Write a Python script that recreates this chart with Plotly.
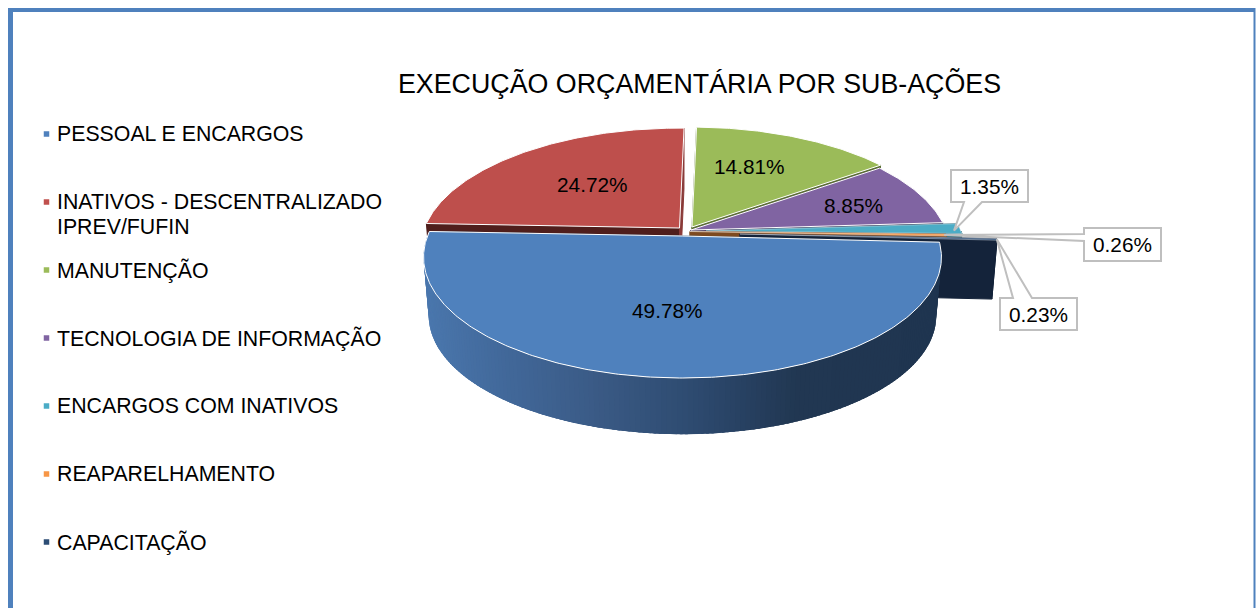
import math
import plotly.graph_objects as go

# ---- data ----
CATEGORIES = ["PESSOAL E ENCARGOS", "INATIVOS - DESCENTRALIZADO<br>IPREV/FUFIN", "MANUTENÇÃO",
              "TECNOLOGIA DE INFORMAÇÃO", "ENCARGOS COM INATIVOS", "REAPARELHAMENTO", "CAPACITAÇÃO"]
SHARES = [49.78, 24.72, 14.81, 8.85, 1.35, 0.26, 0.23]
TITLE = "EXECUÇÃO ORÇAMENTÁRIA POR SUB-AÇÕES"

# ---- styles ----
TOP_COLORS = ["#4F81BD", "#BE4F4C", "#9BBB59", "#8064A2", "#4BACC6", "#F79646", "#2C4D75"]
CUT_COLORS = ["#24405F", "#4F1E1C", "#5A6E33", "#4A3A60", "#2A6B7D", "#7D4A20", "#14233A"]
CUT_END_COLORS = ["#24405F", "#8A3A38", "#5A6E33", "#4A3A60", "#2A6B7D", "#7D4A20", "#14233A"]
LEGEND_COLORS = ["#4F81BD", "#C0504D", "#9BBB59", "#8064A2", "#4BACC6", "#F79646", "#2C4D75"]
FONT = "Liberation Sans, Arial, sans-serif"

# ---- 3-D pie projection (canvas pixels) ----
R, TILT, PERSP, DEPTH, BOTTOM_SCALE = 255.0, 0.46, 0.174, 59.0, 0.98
START_DEG = 3.0
CENTRES = [(682.5, 236), (679.5, 228), (692, 227), (691, 230), (706, 231), (690, 231.5), (740, 234)]
LABEL_POS = {0: (667, 310), 1: (592, 184), 2: (749, 166), 3: (853, 205)}
CALLOUTS = {
    4: ((951, 170, 1028, 202), ((964, 202), (982, 202))),
    5: ((1084, 228, 1161, 261), ((1084, 234), (1084, 241))),
    6: ((1000, 298, 1077, 330), ((1013, 298), (1032, 298))),
}
TIP_SHIFT = {4: (-6, 2), 5: (-2, 0), 6: (0, 0)}
WALL_STOPS = [(425, (74, 119, 173)), (500, (66, 105, 155)), (600, (58, 90, 133)),
              (700, (45, 74, 111)), (800, (33, 55, 82)), (940, (31, 53, 80))]


def project(cx, cy, deg, bottom=False, frac=1.0):
    a = math.radians(deg)
    X, Y = frac * math.cos(a), frac * math.sin(a)
    s = 1 / (1 - PERSP * Y)
    b = BOTTOM_SCALE if bottom else 1.0
    return cx + R * X * s * b, cy + (DEPTH if bottom else 0) + R * TILT * Y * s * b


def arc(cx, cy, a0, a1, bottom=False):
    n = max(2, int(abs(a1 - a0) * 1.5))
    return [project(cx, cy, a0 + (a1 - a0) * i / n, bottom) for i in range(n + 1)]


def wall_color(x):
    for (x0, c0), (x1, c1) in zip(WALL_STOPS, WALL_STOPS[1:]):
        if x <= x1:
            t = max(0.0, (x - x0) / (x1 - x0))
            return "rgb(%d,%d,%d)" % tuple(round(p + (q - p) * t) for p, q in zip(c0, c1))
    return "rgb(%d,%d,%d)" % WALL_STOPS[-1][1]


fig = go.Figure()


def poly(points, fill, line=None, width=1.0):
    xs = [p[0] for p in points] + [points[0][0]]
    ys = [p[1] for p in points] + [points[0][1]]
    fig.add_trace(go.Scatter(x=xs, y=ys, mode="lines", fill="toself", fillcolor=fill,
                             line=dict(color=line or fill, width=width),
                             hoverinfo="skip", showlegend=False))


angles, cur = [], START_DEG
for v in SHARES:
    angles.append((cur, cur + v * 3.6))
    cur += v * 3.6

for i in [1, 2, 3, 4, 5, 6, 0]:
    cx, cy = CENTRES[i]
    a0, a1 = angles[i]
    apex_t, apex_b = (cx, cy), (cx, cy + DEPTH)
    for edge, col in ((a0, CUT_COLORS[i]), (a1, CUT_END_COLORS[i])):
        poly([apex_t, project(cx, cy, edge), project(cx, cy, edge, True), apex_b], col)
    if i == 0:
        step = 1.0
        d = a0
        while d < a1:
            e = min(a1, d + step + 1.5)
            tp = arc(cx, cy, d, e)
            bt = arc(cx, cy, d, e, True)
            poly(tp + bt[::-1], wall_color(tp[0][0]), width=0)
            d += step
    elif a1 > 360:
        lo = max(a0, 360)
        poly(arc(cx, cy, lo, a1) + arc(cx, cy, lo, a1, True)[::-1], CUT_COLORS[i])
    poly([apex_t] + arc(cx, cy, a0, a1), TOP_COLORS[i], line="#FFFFFF", width=1.0 if i < 4 else 0.4)

LEG_Y = [134, 202, 270, 338, 406, 474, 542]
fig.add_trace(go.Scatter(x=[46.5] * len(LEG_Y), y=LEG_Y, mode="markers",
                         marker=dict(symbol="square", size=5.5, color=LEGEND_COLORS, line=dict(width=0)),
                         hoverinfo="skip", showlegend=False))

annotations = []
LINE_GAP = 25
for name, y in zip(CATEGORIES, LEG_Y):
    for k, part in enumerate(name.split("<br>")):
        annotations.append(dict(x=54.5, y=y + k * LINE_GAP, text=part, xref="x", yref="y",
                                xanchor="left", yanchor="middle", align="left", showarrow=False,
                                font=dict(family=FONT, size=21.3, color="#000000")))
annotations.append(dict(x=699.5, y=83, text=TITLE, xref="x", yref="y", showarrow=False,
                        xanchor="center", yanchor="middle", font=dict(family=FONT, size=26.8, color="#000000")))
for i, (x, y) in LABEL_POS.items():
    annotations.append(dict(x=x, y=y, text=f"{SHARES[i]:.2f}%", xref="x", yref="y", showarrow=False,
                            font=dict(family=FONT, size=20.8, color="#000000")))

shapes = [
    dict(type="line", xref="x", yref="y", x0=10.5, y0=608, x1=10.5, y1=8, line=dict(color="#4F81BD", width=5)),
    dict(type="line", xref="x", yref="y", x0=8, y0=10, x1=1255, y1=10, line=dict(color="#4F81BD", width=4)),
    dict(type="line", xref="x", yref="y", x0=1254.5, y0=8, x1=1254.5, y1=608, line=dict(color="#4F81BD", width=2)),
]
for i, ((x0, y0, x1, y1), (b0, b1)) in CALLOUTS.items():
    a0, a1 = angles[i]
    tx, ty = project(CENTRES[i][0], CENTRES[i][1], (a0 + a1) / 2)
    tx += TIP_SHIFT[i][0]
    ty += TIP_SHIFT[i][1]
    if i == 4:
        path = f"M{x0},{y0} L{x1},{y0} L{x1},{y1} L{b1[0]},{b1[1]} L{tx:.1f},{ty:.1f} L{b0[0]},{b0[1]} L{x0},{y1} Z"
    elif i == 5:
        path = f"M{x0},{y0} L{x1},{y0} L{x1},{y1} L{x0},{y1} L{b1[0]},{b1[1]} L{tx:.1f},{ty:.1f} L{b0[0]},{b0[1]} Z"
    else:
        path = f"M{x0},{y0} L{b0[0]},{b0[1]} L{tx:.1f},{ty:.1f} L{b1[0]},{b1[1]} L{x1},{y0} L{x1},{y1} L{x0},{y1} Z"
    shapes.append(dict(type="path", xref="x", yref="y", path=path, fillcolor="#FFFFFF",
                       line=dict(color="#BFBFBF", width=2), layer="above"))
    annotations.append(dict(x=(x0 + x1) / 2, y=(y0 + y1) / 2, text=f"{SHARES[i]:.2f}%", xref="x", yref="y",
                            showarrow=False, font=dict(family=FONT, size=20.8, color="#000000")))

fig.update_layout(
    width=1256, height=608, autosize=False,
    margin=dict(l=0, r=0, t=0, b=0),
    paper_bgcolor="#FFFFFF", plot_bgcolor="#FFFFFF",
    xaxis=dict(range=[0, 1256], visible=False, fixedrange=True),
    yaxis=dict(range=[608, 0], visible=False, fixedrange=True),
    showlegend=False, shapes=shapes, annotations=annotations,
)
fig.write_html("out.html", config={"displayModeBar": False},
               post_script="document.body.style.margin='0';document.documentElement.style.overflow='hidden';")
